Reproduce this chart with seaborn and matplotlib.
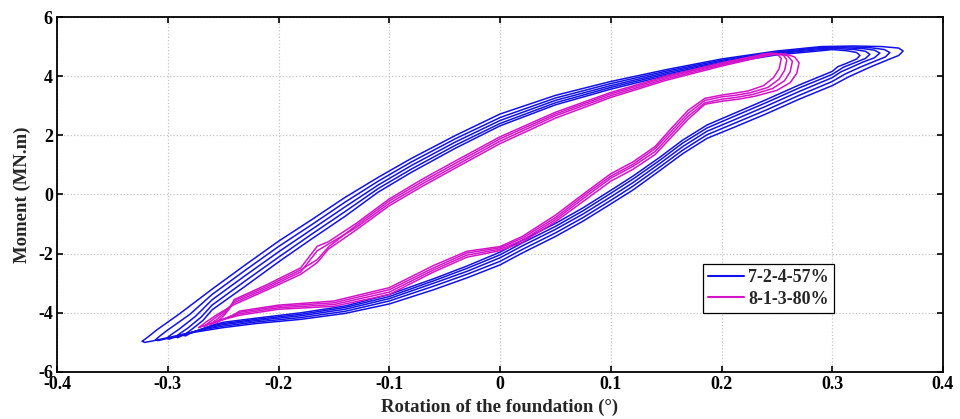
import matplotlib
matplotlib.use("Agg")
import matplotlib.pyplot as plt
import seaborn as sns
import pandas as pd
from matplotlib.lines import Line2D

# ---------------- data ----------------
series_names = ["7-2-4-57%", "8-1-3-80%"]
series_colors = ["#1212e8", "#d314c9"]
x_ticks = [-0.4, -0.3, -0.2, -0.1, 0, 0.1, 0.2, 0.3, 0.4]
x_tick_labels = ["-0.4", "-0.3", "-0.2", "-0.1", "0", "0.1", "0.2", "0.3", "0.4"]
y_ticks = [-6, -4, -2, 0, 2, 4, 6]
y_tick_labels = ["-6", "-4", "-2", "0", "2", "4", "6"]

# ---- test 7-2-4-57% (blue), 5 cycles ----
blue_tipL_up_x = [[-0.323, -0.318, -0.31, -0.29], [-0.311, -0.307, -0.30, -0.28], [-0.301, -0.297, -0.29, -0.275],
                  [-0.293, -0.289, -0.282, -0.27], [-0.286, -0.282, -0.277, -0.268]]
blue_tipL_up_y = [[-4.96, -4.82, -4.58, -4.05], [-4.91, -4.78, -4.58, -4.05], [-4.86, -4.74, -4.56, -4.12],
                  [-4.81, -4.70, -4.52, -4.15], [-4.76, -4.66, -4.52, -4.25]]
blue_up_x = [-0.26, -0.23, -0.20, -0.17, -0.14, -0.11, -0.08, -0.04, 0.00, 0.05, 0.10, 0.15, 0.20, 0.25, 0.29]
blue_up_y = [
    [-3.20, -2.38, -1.58, -0.85, -0.10, 0.58, 1.22, 2.00, 2.72, 3.35, 3.82, 4.22, 4.58, 4.85, 5.00],
    [-3.38, -2.56, -1.76, -1.02, -0.26, 0.45, 1.10, 1.89, 2.60, 3.26, 3.75, 4.17, 4.54, 4.82, 4.97],
    [-3.56, -2.74, -1.94, -1.18, -0.42, 0.32, 0.98, 1.78, 2.50, 3.18, 3.68, 4.12, 4.50, 4.79, 4.94],
    [-3.74, -2.92, -2.12, -1.34, -0.58, 0.20, 0.86, 1.67, 2.40, 3.10, 3.62, 4.07, 4.46, 4.76, 4.90],
    [-3.90, -3.10, -2.28, -1.50, -0.74, 0.08, 0.75, 1.57, 2.32, 3.03, 3.56, 4.02, 4.42, 4.72, 4.86],
]
blue_tipR_x = [[0.32, 0.345, 0.360, 0.364, 0.360, 0.350, 0.335, 0.315],
               [0.315, 0.335, 0.347, 0.352, 0.348, 0.338, 0.325, 0.312],
               [0.31, 0.328, 0.338, 0.343, 0.338, 0.328, 0.316, 0.308],
               [0.305, 0.32, 0.330, 0.334, 0.330, 0.320, 0.310],
               [0.30, 0.313, 0.322, 0.325, 0.322, 0.312, 0.305]]
blue_tipR_y = [[5.02, 5.00, 4.95, 4.85, 4.70, 4.55, 4.32, 3.98],
               [4.99, 4.96, 4.90, 4.80, 4.65, 4.50, 4.30, 4.08],
               [4.96, 4.93, 4.88, 4.78, 4.62, 4.48, 4.28, 4.15],
               [4.93, 4.90, 4.84, 4.74, 4.60, 4.45, 4.30],
               [4.90, 4.86, 4.80, 4.70, 4.58, 4.42, 4.32]]
blue_dn_x = [0.30, 0.27, 0.24, 0.21, 0.187, 0.165, 0.144, 0.12, 0.10, 0.075, 0.05, 0.02, 0.00,
             -0.03, -0.06, -0.10, -0.14, -0.18, -0.22, -0.25]
blue_dn_y = [
    [3.68, 3.22, 2.72, 2.25, 1.90, 1.38, 0.80, 0.15, -0.32, -0.90, -1.42, -1.98, -2.38, -2.82, -3.22, -3.70, -4.02, -4.22, -4.36, -4.50],
    [3.82, 3.35, 2.85, 2.38, 2.02, 1.50, 0.92, 0.28, -0.20, -0.78, -1.30, -1.86, -2.26, -2.70, -3.10, -3.60, -3.95, -4.16, -4.31, -4.45],
    [3.95, 3.48, 2.98, 2.50, 2.14, 1.62, 1.04, 0.40, -0.08, -0.66, -1.18, -1.74, -2.14, -2.60, -3.00, -3.52, -3.88, -4.10, -4.26, -4.40],
    [4.06, 3.60, 3.10, 2.62, 2.25, 1.74, 1.15, 0.52, 0.04, -0.55, -1.08, -1.64, -2.04, -2.50, -2.92, -3.45, -3.82, -4.05, -4.22, -4.36],
    [4.16, 3.70, 3.20, 2.72, 2.35, 1.84, 1.25, 0.62, 0.14, -0.45, -0.98, -1.55, -1.95, -2.42, -2.85, -3.38, -3.77, -4.00, -4.18, -4.32],
]
blue_tipL_dn_x = [[-0.28, -0.30, -0.315, -0.321, -0.323], [-0.27, -0.29, -0.303, -0.309, -0.311],
                  [-0.265, -0.28, -0.294, -0.299, -0.301], [-0.262, -0.275, -0.287, -0.291, -0.293],
                  [-0.26, -0.27, -0.28, -0.284, -0.286]]
blue_tipL_dn_y = [[-4.68, -4.84, -4.96, -5.00, -4.96], [-4.58, -4.76, -4.89, -4.94, -4.91],
                  [-4.52, -4.68, -4.83, -4.89, -4.86], [-4.46, -4.62, -4.77, -4.84, -4.81],
                  [-4.42, -4.56, -4.70, -4.78, -4.76]]

# ---- test 8-1-3-80% (magenta), 4 cycles ----
mag_tipL_up_x = [[-0.272, -0.265, -0.255], [-0.267, -0.26, -0.25], [-0.262, -0.255, -0.247], [-0.257, -0.25, -0.244]]
mag_tipL_up_y = [[-4.50, -4.30, -4.05], [-4.45, -4.25, -3.98], [-4.40, -4.20, -3.95], [-4.35, -4.12, -3.85]]
mag_up_x = [-0.24, -0.21, -0.18, -0.165, -0.155, -0.13, -0.10, -0.07, -0.04, 0.00, 0.05, 0.10, 0.15, 0.20, 0.23]
mag_up_y = [
    [-3.72, -3.22, -2.70, -2.30, -1.85, -1.20, -0.38, 0.28, 0.90, 1.72, 2.58, 3.28, 3.86, 4.34, 4.60],
    [-3.66, -3.16, -2.62, -1.90, -1.68, -1.12, -0.30, 0.36, 0.98, 1.80, 2.66, 3.34, 3.91, 4.38, 4.63],
    [-3.60, -3.10, -2.55, -2.20, -1.78, -1.05, -0.22, 0.44, 1.06, 1.88, 2.72, 3.40, 3.96, 4.42, 4.66],
    [-3.55, -3.04, -2.48, -1.75, -1.60, -0.98, -0.15, 0.52, 1.14, 1.95, 2.78, 3.45, 4.00, 4.45, 4.68],
]
mag_tipR_x = [[0.245, 0.258, 0.266, 0.270, 0.268, 0.262, 0.25, 0.23, 0.215],
              [0.242, 0.253, 0.260, 0.264, 0.262, 0.257, 0.246, 0.228, 0.213],
              [0.240, 0.250, 0.256, 0.259, 0.257, 0.252, 0.242, 0.226, 0.212],
              [0.238, 0.246, 0.251, 0.254, 0.252, 0.247, 0.238, 0.224, 0.211]]
mag_tipR_y = [[4.72, 4.75, 4.65, 4.45, 4.10, 3.78, 3.52, 3.32, 3.22],
              [4.73, 4.76, 4.68, 4.50, 4.15, 3.85, 3.58, 3.38, 3.28],
              [4.74, 4.77, 4.70, 4.55, 4.20, 3.90, 3.62, 3.44, 3.35],
              [4.75, 4.78, 4.72, 4.60, 4.25, 3.95, 3.68, 3.50, 3.42]]
mag_dn_x = [0.20, 0.185, 0.17, 0.155, 0.14, 0.12, 0.10, 0.08, 0.05, 0.02, 0.00, -0.03, -0.06, -0.10, -0.15, -0.20, -0.235]
mag_dn_y = [
    [3.15, 3.05, 2.55, 1.95, 1.35, 0.85, 0.45, -0.10, -0.92, -1.62, -1.90, -2.12, -2.62, -3.38, -3.78, -3.88, -4.08],
    [3.22, 3.10, 2.65, 2.05, 1.45, 0.95, 0.55, 0.00, -0.85, -1.55, -1.85, -2.05, -2.55, -3.30, -3.72, -3.83, -4.03],
    [3.30, 3.18, 2.75, 2.15, 1.55, 1.02, 0.62, 0.08, -0.78, -1.48, -1.80, -1.98, -2.48, -3.22, -3.66, -3.78, -3.98],
    [3.36, 3.25, 2.85, 2.25, 1.62, 1.10, 0.70, 0.15, -0.70, -1.42, -1.76, -1.92, -2.40, -3.15, -3.60, -3.74, -3.94],
]
mag_tipL_dn_x = [[-0.255, -0.266, -0.272], [-0.25, -0.261, -0.267], [-0.246, -0.256, -0.262], [-0.242, -0.251, -0.257]]
mag_tipL_dn_y = [[-4.28, -4.42, -4.50], [-4.22, -4.36, -4.45], [-4.16, -4.30, -4.40], [-4.10, -4.24, -4.35]]

# ---------------- assemble long table ----------------
rows = []
def add_cycles(name, tag, tl_ux, tl_uy, up_x, up_y, tr_x, tr_y, dn_x, dn_y, tl_dx, tl_dy):
    for k in range(len(up_y)):
        xs = tl_ux[k] + up_x + tr_x[k] + dn_x + tl_dx[k]
        ys = tl_uy[k] + up_y[k] + tr_y[k] + dn_y[k] + tl_dy[k]
        for i, (xv, yv) in enumerate(zip(xs, ys)):
            rows.append({"rot": xv, "mom": yv, "test": name, "cycle": f"{tag}{k}", "order": i})

add_cycles(series_names[0], "b", blue_tipL_up_x, blue_tipL_up_y, blue_up_x, blue_up_y,
           blue_tipR_x, blue_tipR_y, blue_dn_x, blue_dn_y, blue_tipL_dn_x, blue_tipL_dn_y)
add_cycles(series_names[1], "m", mag_tipL_up_x, mag_tipL_up_y, mag_up_x, mag_up_y,
           mag_tipR_x, mag_tipR_y, mag_dn_x, mag_dn_y, mag_tipL_dn_x, mag_tipL_dn_y)
df = pd.DataFrame(rows)

# ---------------- style ----------------
sns.set_style("ticks")
plt.rcParams["font.family"] = ["Liberation Serif", "DejaVu Serif"]
plt.rcParams["font.weight"] = "bold"
plt.rcParams["axes.labelweight"] = "bold"

fig = plt.figure(figsize=(9.6, 4.19), dpi=100)
ax = fig.add_axes([57 / 960, 1 - 372 / 419, (943 - 57) / 960, (372 - 17) / 419])

palette = dict(zip(series_names, series_colors))
sns.lineplot(data=df, x="rot", y="mom", hue="test", hue_order=series_names, units="cycle",
             estimator=None, sort=False, palette=palette, lw=1.1, legend=False, ax=ax)

ax.set_xlim(-0.4, 0.4)
ax.set_ylim(-6, 6)
ax.set_xticks(x_ticks)
ax.set_xticklabels(x_tick_labels)
ax.set_yticks(y_ticks)
ax.set_yticklabels(y_tick_labels)
ax.tick_params(direction="in", top=True, right=True, length=4, width=1.2,
               labelsize=13, pad=3, colors="black")
for lab in ax.get_xticklabels() + ax.get_yticklabels():
    lab.set_fontweight("bold")
ax.grid(True, linestyle=":", color="#c4c4c4", linewidth=0.9)
for sp in ax.spines.values():
    sp.set_visible(True)
    sp.set_color("black")
    sp.set_linewidth(1.3)

ax.set_xlabel("Rotation of the foundation (°)", fontsize=13.5, fontweight="bold", labelpad=4)
ax.set_ylabel("Moment (MN.m)", fontsize=13.5, fontweight="bold", labelpad=5)

handles = [Line2D([0], [0], color=c, lw=1.5) for c in series_colors]
leg = ax.legend(handles, series_names, loc="lower left", bbox_to_anchor=(0.729, 0.166),
                prop={"family": "Liberation Serif", "weight": "bold", "size": 13},
                frameon=True, fancybox=False, edgecolor="black", framealpha=1,
                handlelength=2.0, handletextpad=0.2, borderpad=0.3, labelspacing=0.25,
                borderaxespad=0)
leg.get_frame().set_linewidth(0.9)

fig.savefig("out.png", dpi=100)
